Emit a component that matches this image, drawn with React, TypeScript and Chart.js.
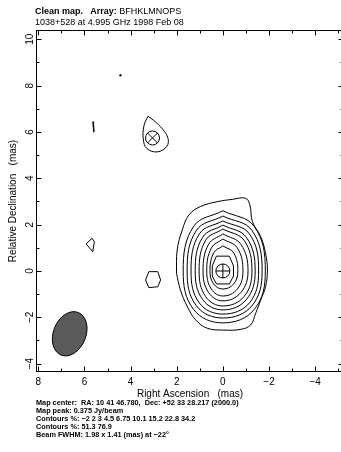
import React, { useEffect, useRef } from "react";
import { Chart, registerables } from "chart.js";

Chart.register(...registerables);

// ---- axis ranges (mas) ----
const RA_RANGE = [-5.25, 8.1];
const DEC_RANGE = [-4.36, 10.4];

// ---- text ----
const HEADER_SOURCE = "1038+528 at 4.995 GHz 1998 Feb 08";
const HEADER_ARRAY = "BFHKLMNOPS";
const MAP_CENTER = "RA: 10 41 46.780,  Dec: +52 33 28.217 (2000.0)";
const MAP_PEAK = "0.375 Jy/beam";
const CONTOUR_LEVELS_1 = ["−2", "2", "3", "4.5", "6.75", "10.1", "15.2", "22.8", "34.2"];
const CONTOUR_LEVELS_2 = ["51.3", "76.9"];
const BEAM_TEXT = "1.98 x 1.41 (mas) at −22°";

// ---- restoring beam ----
const BEAM_CENTER = [6.64, -2.71];
const BEAM_FWHM = [1.98, 1.41];
const BEAM_PA = -22;

// ---- model components [RA, Dec] ----
const COMP_CORE = [0, 0];
const COMP_JET = [3.05, 5.74];

// ---- contours (RA, Dec in mas) ----
const core2: number[][] = [[2.01,-0.1],[1.98,0.91],[1.76,1.77],[1.47,2.42],[0.97,2.78],[0.24,2.99],[-0.41,3.09],[-0.98,3.14],[-1.17,2.85],[-1.28,2.13],[-1.64,1.48],[-1.85,0.76],[-1.93,0.04],[-1.85,-0.68],[-1.64,-1.25],[-1.42,-1.83],[-1.2,-2.33],[-0.77,-2.52],[-0.04,-2.55],[0.68,-2.47],[1.18,-2.11],[1.54,-1.54],[1.84,-0.82],[2.01,-0.1]];
const core3: number[][] = [[0,2.6],[-1.36,1.92],[-1.84,0],[-1.36,-1.66],[0,-2.24],[1.27,-1.66],[1.72,0],[1.27,1.92],[0,2.6]];
const core4: number[][] = [[0,2.37],[-1.26,1.75],[-1.7,0],[-1.26,-1.5],[0,-2.03],[1.15,-1.5],[1.55,0],[1.15,1.75],[0,2.37]];
const core6: number[][] = [[0,2.16],[-1.15,1.6],[-1.55,0],[-1.15,-1.38],[0,-1.86],[1.02,-1.38],[1.38,0],[1.02,1.6],[0,2.16]];
const core10: number[][] = [[0,1.98],[-1.02,1.45],[-1.4,0],[-1.02,-1.23],[0,-1.68],[0.88,-1.23],[1.2,0],[0.88,1.45],[0,1.98]];
const core15: number[][] = [[0,1.81],[-0.92,1.32],[-1.26,0],[-0.92,-1.1],[0,-1.51],[0.75,-1.1],[1.03,0],[0.75,1.32],[0,1.81]];
const core22: number[][] = [[0,1.6],[-0.78,1.15],[-1.09,0],[-0.78,-0.93],[0,-1.29],[0.62,-0.93],[0.86,0],[0.62,1.15],[0,1.6]];
const core34: number[][] = [[0,1.38],[-0.63,0.99],[-0.87,0],[-0.63,-0.78],[0,-1.08],[0.5,-0.78],[0.7,0],[0.5,0.99],[0,1.38]];
const core51: number[][] = [[0,1.08],[-0.47,0.78],[-0.65,0],[-0.47,-0.56],[0,-0.78],[0.4,-0.56],[0.56,0],[0.4,0.78],[0,1.08]];
const core77: number[][] = [[0.28,0.64],[-0.28,0.64],[-0.46,0.22],[-0.46,-0.22],[-0.28,-0.56],[0.28,-0.56],[0.46,-0.22],[0.46,0.22],[0.28,0.64]];

const jet2: number[][] = [[3.25,6.68],[3.42,6.27],[3.45,5.7],[3.3,5.29],[2.84,5.14],[2.43,5.38],[2.38,5.73],[2.62,6.13],[2.99,6.49],[3.25,6.68]];
const blobA: number[][] = [[4.48,8.42],[4.40,8.42],[4.44,8.5],[4.48,8.42]];
const blobB: number[][] = [[5.61,6.44],[5.64,6.44],[5.6,6.0],[5.58,6.0],[5.61,6.44]];
const blobC: number[][] = [[5.93,1.17],[5.67,1.41],[5.57,1.26],[5.64,0.83],[5.93,1.17]];
const blobNeg: number[][] = [[3.35,-0.39],[3.21,-0.03],[2.82,-0.03],[2.7,-0.39],[2.82,-0.68],[3.21,-0.72],[3.35,-0.39]];

const SMOOTH_CONTOURS = [core2, core3, core4, core6, core10, core15, core22, core34, core51, jet2];
const POLY_CONTOURS = [core77, blobA, blobB, blobC, blobNeg];

const FONT = "'Liberation Sans', Arial, Helvetica, sans-serif";

const fmt = (v: number) => (v < 0 ? "−" + Math.abs(v) : String(v));

const framePlugin = {
  id: "frameTicks",
  afterDatasetsDraw(chart: any) {
    const { ctx, scales } = chart;
    const x = scales.x, y = scales.y;
    const cx = x.getPixelForValue(BEAM_CENTER[0]);
    const cy = y.getPixelForValue(BEAM_CENTER[1]);
    const pxX = Math.abs(x.getPixelForValue(1) - x.getPixelForValue(0));
    const pxY = Math.abs(y.getPixelForValue(1) - y.getPixelForValue(0));
    ctx.save();
    ctx.beginPath();
    ctx.ellipse(cx, cy, (BEAM_FWHM[1] / 2) * pxX, (BEAM_FWHM[0] / 2) * pxY, (-BEAM_PA * Math.PI) / 180, 0, Math.PI * 2);
    ctx.fillStyle = "#5a5a5a";
    ctx.fill();
    ctx.strokeStyle = "#000";
    ctx.lineWidth = 1;
    ctx.stroke();
    ctx.restore();
  },
  afterDraw(chart: any) {
    const { ctx, chartArea: a, scales } = chart;
    const x = scales.x, y = scales.y;
    ctx.save();
    ctx.strokeStyle = "#000";
    ctx.lineWidth = 1;
    const L = Math.round(a.left) + 0.5, R = Math.round(a.right) - 0.5;
    const T = Math.round(a.top) + 0.5, B = Math.round(a.bottom) - 0.5;
    ctx.strokeRect(L, T, R - L, B - T);
    ctx.beginPath();
    x.ticks.forEach((t: any) => {
      const p = Math.round(x.getPixelForValue(t.value)) + 0.5;
      const len = t.value % 2 === 0 ? 5 : 3;
      ctx.moveTo(p, B); ctx.lineTo(p, B - len);
      ctx.moveTo(p, T); ctx.lineTo(p, T + len);
    });
    y.ticks.forEach((t: any) => {
      const p = Math.round(y.getPixelForValue(t.value)) + 0.5;
      const len = t.value % 2 === 0 ? 5 : 3;
      ctx.moveTo(L, p); ctx.lineTo(L + len, p);
      ctx.moveTo(R, p); ctx.lineTo(R - len, p);
    });
    ctx.stroke();
    ctx.restore();
  },
};

export default function App() {
  const ref = useRef<HTMLCanvasElement | null>(null);

  useEffect(() => {
    if (!ref.current) return;
    const toPts = (arr: number[][]) => arr.map(([x, y]) => ({ x, y }));
    const datasets: any[] = [];
    SMOOTH_CONTOURS.forEach((c) =>
      datasets.push({ data: toPts(c), showLine: true, borderColor: "#000", borderWidth: 1, pointRadius: 0, tension: 0.4, fill: false })
    );
    POLY_CONTOURS.forEach((c) =>
      datasets.push({ data: toPts(c), showLine: true, borderColor: "#000", borderWidth: 1, pointRadius: 0, tension: 0, fill: false })
    );
    [COMP_CORE, COMP_JET].forEach((c) =>
      datasets.push({ data: [{ x: c[0], y: c[1] }], showLine: false, pointStyle: "circle", pointRadius: 7, borderWidth: 1, pointBorderColor: "#000", pointBackgroundColor: "rgba(0,0,0,0)" })
    );
    datasets.push({ data: [{ x: COMP_CORE[0], y: COMP_CORE[1] }], showLine: false, pointStyle: "cross", pointRadius: 7, pointBorderWidth: 1, pointBorderColor: "#000" });
    datasets.push({ data: [{ x: COMP_JET[0], y: COMP_JET[1] }], showLine: false, pointStyle: "crossRot", pointRadius: 7, pointBorderWidth: 1, pointBorderColor: "#000" });

    const chart = new Chart(ref.current, {
      type: "scatter",
      data: { datasets },
      plugins: [framePlugin],
      options: {
        animation: false,
        responsive: false,
        devicePixelRatio: 1,
        layout: { autoPadding: false, padding: { left: 0, top: 30, right: 2, bottom: 52 } },
        plugins: { legend: { display: false }, tooltip: { enabled: false } },
        events: [],
        scales: {
          x: {
            type: "linear",
            reverse: true,
            min: RA_RANGE[0],
            max: RA_RANGE[1],
            grid: { display: false, drawTicks: false },
            border: { display: false },
            afterFit: (s: any) => { s.height = 28; s.paddingLeft = 0; s.paddingRight = 0; },
            ticks: {
              stepSize: 1,
              includeBounds: false,
              autoSkip: false,
              maxRotation: 0,
              padding: 4,
              color: "#000",
              font: { family: FONT, size: 10 },
              callback: (v: any) => (Number(v) % 2 === 0 ? fmt(Number(v)) : ""),
            },
            title: { display: true, text: "Right Ascension   (mas)", color: "#000", font: { family: FONT, size: 10 }, padding: 0 },
          },
          y: {
            type: "linear",
            min: DEC_RANGE[0],
            max: DEC_RANGE[1],
            grid: { display: false, drawTicks: false },
            border: { display: false },
            afterFit: (s: any) => { s.width = 36; s.paddingTop = 0; s.paddingBottom = 0; },
            ticks: {
              stepSize: 1,
              includeBounds: false,
              autoSkip: false,
              minRotation: 90,
              maxRotation: 90,
              crossAlign: "center",
              padding: 0,
              color: "#000",
              font: { family: FONT, size: 10 },
              callback: (v: any) => (Number(v) % 2 === 0 ? fmt(Number(v)) : ""),
            },
            title: { display: true, text: "Relative Declination   (mas)", color: "#000", font: { family: FONT, size: 10 }, padding: { top: 7, bottom: 0 } },
          },
        },
      } as any,
    });
    return () => chart.destroy();
  }, []);

  return (
    <div style={{ position: "absolute", left: 0, top: 0, width: 341, height: 452, overflow: "hidden", background: "#fff" }}>
      <canvas ref={ref} width={346} height={452} style={{ position: "absolute", left: 0, top: 0, width: 346, height: 452 }} />
      <div style={{ position: "absolute", left: 35, top: 6, fontFamily: FONT, fontSize: 9, lineHeight: "11px", color: "#000", whiteSpace: "pre" }}>
        <div><b>Clean map.   Array:</b> {HEADER_ARRAY}</div>
        <div>{HEADER_SOURCE}</div>
      </div>
      <div style={{ position: "absolute", left: 36, top: 399, fontFamily: FONT, fontSize: 7.3, fontWeight: "bold", lineHeight: "8px", color: "#000", whiteSpace: "pre" }}>
        <div>{"Map center:  " + MAP_CENTER}</div>
        <div>{"Map peak: " + MAP_PEAK}</div>
        <div>{"Contours %: " + CONTOUR_LEVELS_1.join(" ")}</div>
        <div>{"Contours %: " + CONTOUR_LEVELS_2.join(" ")}</div>
        <div>{"Beam FWHM: " + BEAM_TEXT}</div>
      </div>
    </div>
  );
}
